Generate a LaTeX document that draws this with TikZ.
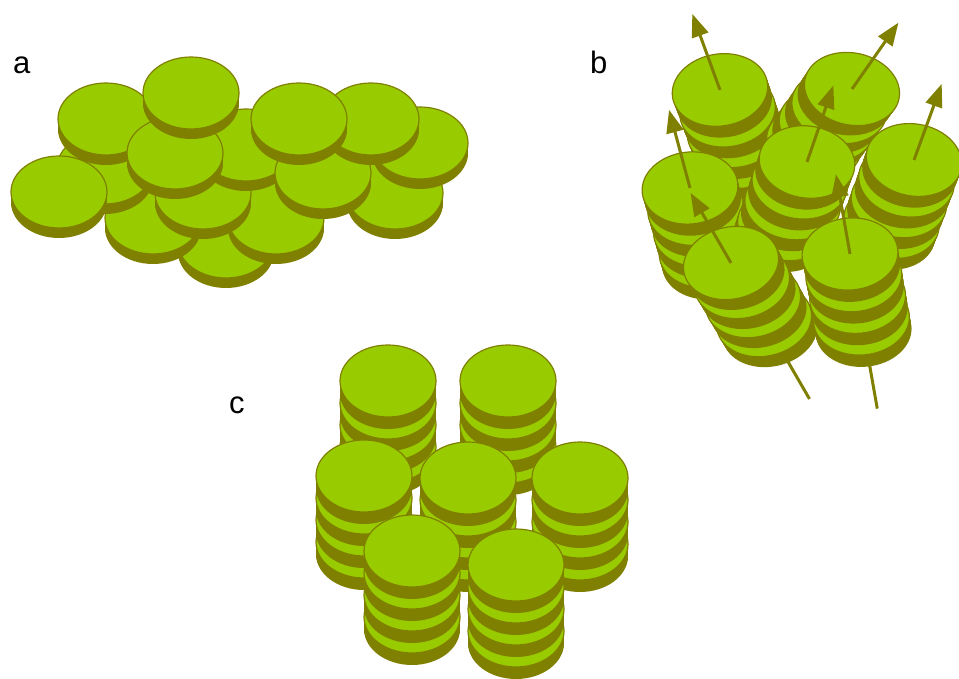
\documentclass[tikz,border=0pt]{standalone}
\usepackage{tikz}
\usepackage{fontspec}
\usepackage{xcolor}
\usetikzlibrary{arrows.meta}
\setmainfont{Liberation Sans}

\definecolor{coinlight}{HTML}{99CC00}
\definecolor{coindark}{HTML}{808000}

% one coin: x, y, tilt of the axis, turn of the face, thickness
\newcommand{\coin}[5]{%
  \foreach \s in {0,1,...,#5}
    \fill[coinside] ({#1-\s*sin(#3)},{#2+\s*cos(#3)}) ellipse [x radius=48pt, y radius=36pt, rotate=#4];
  \filldraw[cointop] ({#1},{#2}) ellipse [x radius=48pt, y radius=36pt, rotate=#4];
}

\begin{document}
\begin{tikzpicture}[x=1pt, y=-1pt,
    cointop/.style={fill=coinlight, draw=coindark, line width=1.2pt},
    coinside/.style={fill=coindark},
    axis/.style={draw=coindark, line width=3pt},
    lbl/.style={font=\fontsize{31}{36}\selectfont, anchor=base west, inner sep=0pt}]
        \clip (0,0) rectangle (959,679);

        \node[lbl] (lbla) at (13,74) {a};
        \node[lbl] (lblb) at (590,74) {b};
        \node[lbl] (lblc) at (229,413) {c};

        % a: loose heap
        \foreach \x/\y in {226/242, 153/218, 276/218, 395/193, 105/168, 106/119, 59/192, 203/193,
                           246/145, 420/143, 323/173, 175/153, 371/119, 299/119, 191/93}
            \coin{\x}{\y}{0}{0}{10};

        % b: tilted stacks with their axes
        \foreach \cx/\cy/\t/\r in {720/90/-20/9, 852/89/35/-12, 690/188/-15/6, 807/162/19/-8,
                                   914/160/20/-10, 731/263/-30/12, 850/254/-10/5} {
            \draw[axis] ({\cx-157*sin(\t)},{\cy+157*cos(\t)}) -- (\cx,\cy);
            \foreach \k in {3,2,1,0}
                \coin{\cx-\k*22*sin(\t)}{\cy+\k*22*cos(\t)}{\t}{\r}{12};
            \draw[axis, -{Triangle[length=23pt, width=17pt]}] (\cx,\cy) -- ({\cx+81*sin(\t)},{\cy-81*cos(\t)});
        }

        % c: upright stacks
        \foreach \cx/\cy in {388/381, 508/381, 364/476, 468/478, 580/478, 412/551, 516/565}
            \foreach \k in {3,2,1,0}
                \coin{\cx}{\cy+\k*22}{0}{0}{12};

    \end{tikzpicture}
\end{document}
